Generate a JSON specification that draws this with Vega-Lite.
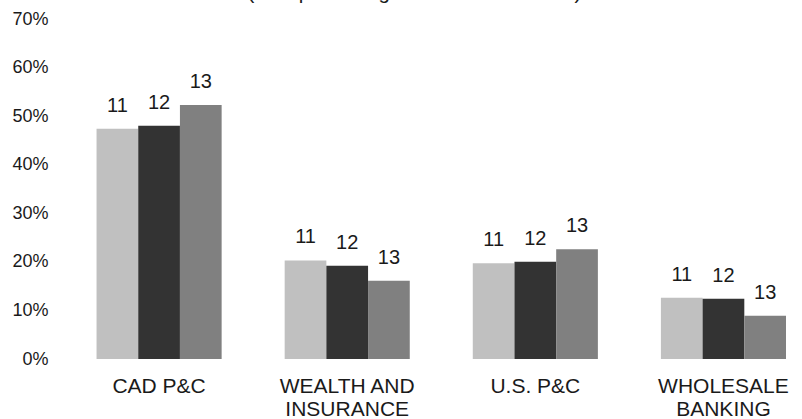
{
  "$schema": "https://vega.github.io/schema/vega-lite/v6.json",
  "width": 745,
  "height": 340,
  "autosize": {"type": "none"},
  "padding": {"left": 55, "top": 19, "right": 2, "bottom": 60},
  "config": {"view": {"stroke": null}, "font": "Liberation Sans"},
  "title": {"text": "(as a percentage of total net income)", "fontSize": 20.5, "fontWeight": "normal", "color": "#1a1a1a", "baseline": "bottom", "offset": 0, "dy": 13, "anchor": "middle", "dx": -13},
  "data": {
    "values": [
      {"segment": "CAD P&C", "year": "11", "value": 47.4},
      {"segment": "CAD P&C", "year": "12", "value": 48.0},
      {"segment": "CAD P&C", "year": "13", "value": 52.3},
      {"segment": "WEALTH AND INSURANCE", "year": "11", "value": 20.3},
      {"segment": "WEALTH AND INSURANCE", "year": "12", "value": 19.2},
      {"segment": "WEALTH AND INSURANCE", "year": "13", "value": 16.1},
      {"segment": "U.S. P&C", "year": "11", "value": 19.7},
      {"segment": "U.S. P&C", "year": "12", "value": 20.0},
      {"segment": "U.S. P&C", "year": "13", "value": 22.6},
      {"segment": "WHOLESALE BANKING", "year": "11", "value": 12.6},
      {"segment": "WHOLESALE BANKING", "year": "12", "value": 12.4},
      {"segment": "WHOLESALE BANKING", "year": "13", "value": 8.9}
    ]
  },
  "encoding": {
    "x": {
      "field": "segment",
      "type": "nominal",
      "sort": ["CAD P&C", "WEALTH AND INSURANCE", "U.S. P&C", "WHOLESALE BANKING"],
      "scale": {"paddingInner": 0.335, "paddingOuter": 0.1476, "align": 0.748},
      "axis": {
        "title": null,
        "labelAngle": 0,
        "domain": false,
        "ticks": false,
        "labelFontSize": 21,
        "labelPadding": 16,
        "labelLineHeight": 23,
        "labelColor": "#1a1a1a",
        "labelExpr": "datum.value == 'WEALTH AND INSURANCE' ? ['WEALTH AND', 'INSURANCE'] : datum.value == 'WHOLESALE BANKING' ? ['WHOLESALE', 'BANKING'] : datum.value"
      }
    },
    "xOffset": {"field": "year", "type": "nominal", "sort": ["11", "12", "13"], "scale": {"paddingInner": 0, "paddingOuter": 0}},
    "y": {
      "field": "value",
      "type": "quantitative",
      "scale": {"domain": [0, 70], "nice": false},
      "axis": {
        "title": null,
        "domain": false,
        "ticks": false,
        "grid": false,
        "values": [0, 10, 20, 30, 40, 50, 60, 70],
        "labelExpr": "datum.value + '%'",
        "labelFontSize": 18,
        "labelPadding": 7,
        "labelColor": "#1a1a1a"
      }
    }
  },
  "layer": [
    {
      "mark": {"type": "bar"},
      "encoding": {
        "color": {
          "field": "year",
          "type": "nominal",
          "scale": {"domain": ["11", "12", "13"], "range": ["#c0c0c0", "#333333", "#808080"]},
          "legend": null
        }
      }
    },
    {
      "mark": {"type": "text", "baseline": "middle", "dy": -23, "fontSize": 20, "color": "#1a1a1a"},
      "encoding": {"text": {"field": "year"}}
    }
  ]
}
